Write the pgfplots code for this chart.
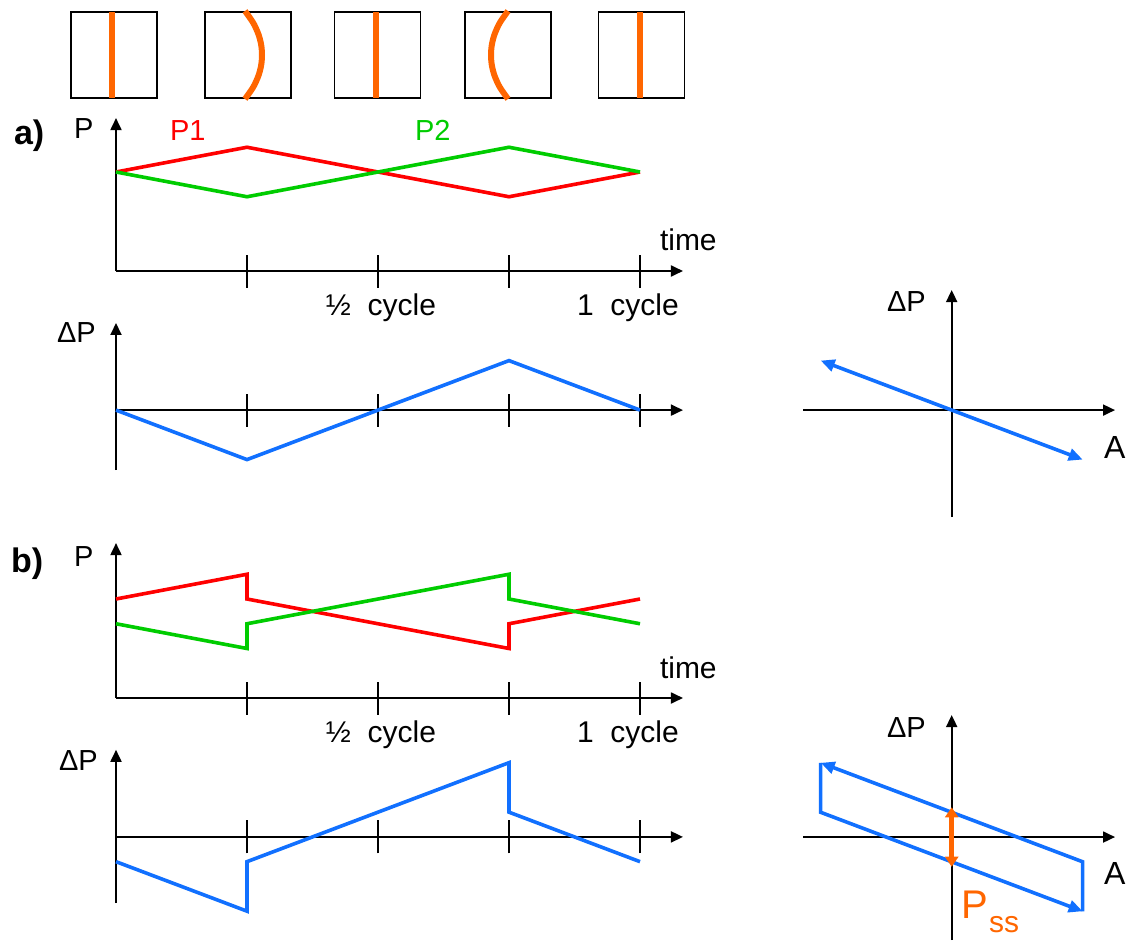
\documentclass[border=0pt]{standalone}
\usepackage{pgfplots}
\pgfplotsset{compat=1.18}
\usepackage{fontspec}
\setmainfont{Liberation Sans}
\usetikzlibrary{arrows.meta}

\definecolor{pred}{RGB}{255,0,0}
\definecolor{pgreen}{RGB}{0,204,0}
\definecolor{pblue}{RGB}{17,112,255}
\definecolor{porange}{RGB}{255,102,0}

\newcommand\lab{\fontsize{14.5pt}{17pt}\selectfont}
\newcommand\tlab{\fontsize{15pt}{18pt}\selectfont}

\pgfplotsset{
  schem/.style={
    axis lines*=middle,
    axis line style={black, line width=0.9pt, -{Triangle[length=6pt,width=5.5pt]}},
    clip=false,
    ytick=\empty,
    no markers,
  },
  % pressure / pressure difference against time, one cycle = 262pt
  timeaxis/.style={
    schem,
    anchor=south west,
    x=262pt, y=12.375pt,
    xmin=0, xmax=1.082,
    xtick={0.25,0.5,0.75,1},
    xticklabels={},
    tick align=center,
    major tick length=16.5pt,
    tick style={black, line width=0.8pt},
  },
  % pressure difference against amplitude
  phaseaxis/.style={
    schem,
    anchor=south west,
    x=65.5pt, y=12.375pt,
    xmin=-1.135, xmax=1.247,
    xtick=\empty,
  },
  % small frames showing the membrane shape
  stripbox/.style={
    anchor=center, x=0.5pt, y=0.5pt,
    xmin=-43, xmax=43, ymin=-43, ymax=43,
    xtick=\empty, ytick=\empty,
    axis line style={black, line width=0.8pt},
    clip=false, no markers,
  },
  curve/.style={line width=1.8pt},
  mem/.style={porange, line width=3pt},
}
\tikzset{lbl/.style={inner sep=0pt, outer sep=0pt}}

\begin{document}
\begin{tikzpicture}
\useasboundingbox (0,0) rectangle (565pt,-470.5pt);

% ---- membrane shape over one cycle ----
\begin{axis}[stripbox, at={(57pt,-27.5pt)}]
  \addplot[mem] coordinates {(-2,-43) (-2,43)};
\end{axis}
\begin{axis}[stripbox, at={(124pt,-27.5pt)}]
  \addplot[mem, smooth] coordinates {(-3,-44) (2.7,-36) (6.4,-30) (10.7,-20) (13.2,-10) (14,0) (13.2,10) (10.7,20) (6.4,30) (2.7,36) (-3,44)};
\end{axis}
\begin{axis}[stripbox, at={(188.75pt,-27.5pt)}]
  \addplot[mem] coordinates {(-2,-43) (-2,43)};
\end{axis}
\begin{axis}[stripbox, at={(254pt,-27.5pt)}]
  \addplot[mem, smooth] coordinates {(0,-44) (-5.7,-36) (-9.4,-30) (-13.7,-20) (-16.2,-10) (-17,0) (-16.2,10) (-13.7,20) (-9.4,30) (-5.7,36) (0,44)};
\end{axis}
\begin{axis}[stripbox, at={(320.75pt,-27.5pt)}]
  \addplot[mem] coordinates {(-2,-43) (-2,43)};
\end{axis}

% ---- a) pressures ----
\begin{axis}[timeaxis, at={(58pt,-135.5pt)}, ymin=0, ymax=6.18]
  \addplot[pred, curve] table {
    t    P
    0    4
    0.25 5
    0.75 3
    1    4
  };
  \addplot[pgreen, curve] table {
    t    P
    0    4
    0.25 3
    0.75 5
    1    4
  };
\end{axis}

% ---- a) pressure difference ----
\begin{axis}[timeaxis, at={(58pt,-235pt)}, ymin=-2.42, ymax=3.52]
  \addplot[pblue, curve] table {
    t    dP
    0    0
    0.25 -2
    0.75 2
    1    0
  };
\end{axis}

% ---- a) dP against A ----
\begin{axis}[phaseaxis, at={(401.5pt,-258.5pt)}, ymin=-4.32, ymax=4.85]
  \addplot[pblue, curve, {Triangle[length=7pt,width=6pt]}-{Triangle[length=7pt,width=6pt]}]
    coordinates {(-1,2) (1,-2)};
\end{axis}

% ---- b) pressures ----
\begin{axis}[timeaxis, at={(58pt,-349pt)}, ymin=0, ymax=6.26]
  \addplot[pred, curve] table {
    t    P
    0    4
    0.25 5
    0.25 4
    0.75 2
    0.75 3
    1    4
  };
  \addplot[pgreen, curve] table {
    t    P
    0    3
    0.25 2
    0.25 3
    0.75 5
    0.75 4
    1    3
  };
\end{axis}

% ---- b) pressure difference ----
\begin{axis}[timeaxis, at={(58pt,-451.5pt)}, ymin=-2.67, ymax=3.52]
  \addplot[pblue, curve] table {
    t    dP
    0    -1
    0.25 -3
    0.25 -1
    0.75 3
    0.75 1
    1    -1
  };
\end{axis}

% ---- b) dP against A ----
\begin{axis}[phaseaxis, at={(401.5pt,-470pt)}, ymin=-4.16, ymax=4.93]
  \addplot[pblue, curve, -{Triangle[length=7pt,width=6pt]}]
    coordinates {(-1,3) (-1,1) (1,-3)};
  \addplot[pblue, curve, -{Triangle[length=7pt,width=6pt]}]
    coordinates {(1,-3) (1,-1) (-1,3)};
  \addplot[porange, line width=2.6pt, {Triangle[length=5pt,width=6.5pt]}-{Triangle[length=5pt,width=6.5pt]}]
    coordinates {(0,1.2) (0,-1.2)};
\end{axis}

% ---- labels ----
\node[lbl, anchor=base west] at (7pt,-72.5pt) {\fontsize{17pt}{20pt}\selectfont\bfseries a)};
\node[lbl, anchor=base west] at (37pt,-69.5pt) {\lab P};
\node[lbl, anchor=base west, text=pred] at (85pt,-70.5pt) {\lab P1};
\node[lbl, anchor=base west, text=pgreen] at (207.5pt,-70.5pt) {\lab P2};
\node[lbl, anchor=base west] at (330pt,-125.5pt) {\tlab time};
\node[lbl, anchor=base] at (190.5pt,-157.5pt) {\tlab ½\ \ cycle};
\node[lbl, anchor=base] at (314pt,-157.5pt) {\tlab 1\ \ cycle};
\node[lbl, anchor=base west] at (28.5pt,-171.5pt) {\lab ΔP};
\node[lbl, anchor=base west] at (443.5pt,-156pt) {\lab ΔP};
\node[lbl, anchor=base west] at (552pt,-229pt) {\fontsize{16pt}{19pt}\selectfont A};

\node[lbl, anchor=base west] at (5.5pt,-286pt) {\fontsize{17pt}{20pt}\selectfont\bfseries b)};
\node[lbl, anchor=base west] at (37pt,-283pt) {\lab P};
\node[lbl, anchor=base west] at (330pt,-339pt) {\tlab time};
\node[lbl, anchor=base] at (190.5pt,-371pt) {\tlab ½\ \ cycle};
\node[lbl, anchor=base] at (314pt,-371pt) {\tlab 1\ \ cycle};
\node[lbl, anchor=base west] at (29.5pt,-385pt) {\lab ΔP};
\node[lbl, anchor=base west] at (443.5pt,-368.5pt) {\lab ΔP};
\node[lbl, anchor=base west] at (552pt,-442pt) {\fontsize{16pt}{19pt}\selectfont A};
\node[lbl, anchor=base west, text=porange] at (480.5pt,-459pt) {\fontsize{20pt}{24pt}\selectfont P};
\node[lbl, anchor=base west, text=porange] at (494.5pt,-466pt) {\tlab ss};
\end{tikzpicture}
\end{document}
